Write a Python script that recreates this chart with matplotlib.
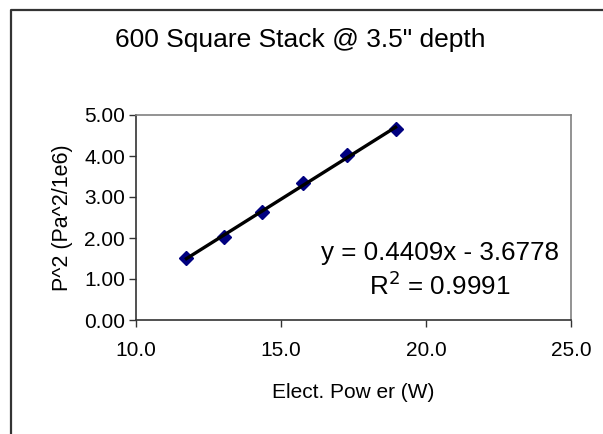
import numpy as np
import matplotlib.pyplot as plt
from matplotlib.lines import Line2D

plt.rcParams['font.family'] = ['Liberation Sans', 'DejaVu Sans']

# 読み取ったデータ
power = [11.74, 13.04, 14.35, 15.76, 17.29, 18.95]
p_squared = [1.52, 2.02, 2.64, 3.33, 4.02, 4.65]
x_ticks = [10.0, 15.0, 20.0, 25.0]
y_ticks = [0.0, 1.0, 2.0, 3.0, 4.0, 5.0]

# 近似直線
coef = np.polyfit(power, p_squared, 1)
fit_x = np.array([min(power), max(power)])
fit_y = np.polyval(coef, fit_x)

fig = plt.figure(figsize=(6.03, 4.34), dpi=100)
ax = fig.add_axes([136 / 603, 1 - 320 / 434, 435 / 603, 205 / 434])

ax.plot(fit_x, fit_y, color='black', linewidth=2.4, zorder=3)
ax.plot(power, p_squared, linestyle='none', marker='D', markersize=7.5,
        color='#000080', zorder=2)

ax.set_xlim(10, 25)
ax.set_ylim(0, 5)
ax.set_xticks(x_ticks)
ax.set_yticks(y_ticks)
ax.set_xticklabels(['%.1f' % v for v in x_ticks])
ax.set_yticklabels(['%.2f' % v for v in y_ticks])
ax.tick_params(axis='both', direction='out', length=5, width=1, labelsize=15,
               color='#333333')
ax.tick_params(axis='x', pad=10)
ax.tick_params(axis='y', pad=3)

for side in ['top', 'right']:
    ax.spines[side].set_color('#808080')
    ax.spines[side].set_linewidth(1.2)
for side in ['left', 'bottom']:
    ax.spines[side].set_color('#333333')
    ax.spines[side].set_linewidth(1.2)

ax.set_xlabel('Elect. Pow er (W)', fontsize=15, labelpad=17)
ax.set_ylabel('P^2 (Pa^2/1e6)', fontsize=15.5, labelpad=8)

ax.text(440 / 603, 1 - 253 / 434, 'y = 0.4409x - 3.6778', transform=fig.transFigure,
        ha='center', va='center', fontsize=18.7)
ax.text(440 / 603, 1 - 286 / 434, 'R$^2$ = 0.9991', transform=fig.transFigure,
        ha='center', va='center', fontsize=18.7)

fig.text(300 / 603, 1 - 40 / 434, '600 Square Stack @ 3.5" depth',
         ha='center', va='center', fontsize=19)

# 外枠（左と上のみ見える）
x0 = 11 / 603
y0 = 1 - 9.7 / 434
fig.add_artist(Line2D([x0, x0, 1.01], [-0.01, y0, y0], transform=fig.transFigure,
                      color='#333333', linewidth=1.6))

fig.savefig('out.png', dpi=100)
